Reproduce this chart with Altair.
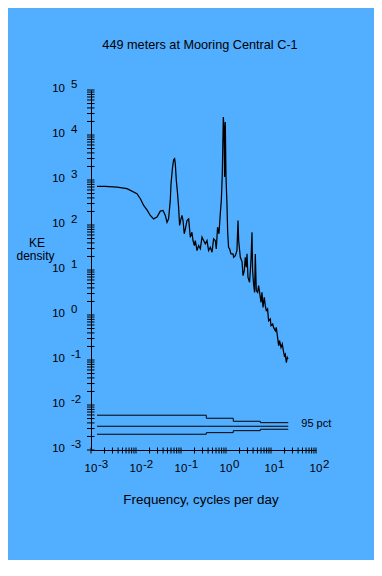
import altair as alt
import pandas as pd

# ---- data ----
title_text = "449 meters at Mooring Central C-1"
x_title = "Frequency, cycles per day"
y_title_1 = "KE"
y_title_2 = "density"
conf_label = "95 pct"

freq = [1.36e-3, 2.08e-3, 3.79e-3, 6.31e-3, 1.05e-2, 1.25e-2, 1.48e-2, 1.75e-2, 2.08e-2, 2.46e-2,
        2.93e-2, 3.47e-2, 3.98e-2, 4.48e-2, 4.89e-2, 5.30e-2, 5.78e-2, 6.00e-2, 6.50e-2, 6.86e-2,
        7.21e-2, 7.46e-2, 7.87e-2, 8.39e-2, 8.85e-2, 9.31e-2, 0.100, 0.105, 0.111, 0.118,
        0.125, 0.136, 0.148, 0.155, 0.161, 0.175, 0.185, 0.198, 0.208, 0.227,
        0.246, 0.269, 0.293, 0.318, 0.347, 0.378, 0.410, 0.448, 0.489, 0.530,
        0.578, 0.608, 0.650, 0.698, 0.746, 0.787, 0.828, 0.871, 0.904, 0.931,
        0.964, 1.00, 1.05, 1.09, 1.14, 1.20, 1.29, 1.43, 1.48, 1.61,
        1.75, 1.85, 1.91, 2.08, 2.27, 2.39, 2.55, 2.68, 2.82, 2.93,
        3.08, 3.34, 3.59, 3.78, 3.90, 4.10, 4.32, 4.48, 4.71, 5.04,
        5.30, 5.58, 6.00, 6.31, 6.64, 7.10, 7.46, 7.87, 8.39, 8.85,
        9.64, 10.0, 10.9, 11.4, 12.5, 13.1, 14.0, 14.8, 15.5, 16.7,
        17.8, 19.1, 19.8, 20.8, 21.9, 23.0, 23.9]
ke = [720, 720, 695, 640, 495, 383, 272, 216, 163, 137,
      151, 203, 210, 163, 115, 137, 352, 827, 1940, 2830,
      2980, 2310, 980, 495, 249, 97.5, 137, 163, 126, 63.7,
      82.2, 126, 137, 82.2, 53.5, 69.1, 45.2, 34.9, 45.2, 27.0,
      34.9, 29.5, 53.5, 45.2, 38.1, 45.2, 27.0, 32.0, 24.8, 49.3,
      45.2, 29.5, 89.3, 63.7, 177, 352, 1380, 25200, 15100, 1160,
      19500, 1160, 296, 69.1, 32.0, 29.5, 22.8, 22.8, 19.2, 20.9,
      27.0, 126, 45.2, 19.2, 15.4, 7.50, 9.70, 19.2, 11.5, 22.8,
      6.87, 5.32, 16.2, 69.1, 9.70, 4.90, 3.18, 22.8, 3.48, 3.18,
      4.50, 3.18, 1.91, 3.18, 1.48, 2.47, 1.61, 1.25, 1.36, 0.746,
      0.815, 0.578, 0.631, 0.530, 0.447, 0.530, 0.317, 0.207, 0.268, 0.190,
      0.226, 0.147, 0.124, 0.135, 0.0879, 0.114, 0.105]

conf_freq = [1.36e-3, 0.365, 1.45, 5.78, 24.2]
conf_upper = [5.93e-3, 5.08e-3, 4.35e-3, 4.05e-3, 4.05e-3]
conf_mid = [3.37e-3, 3.37e-3, 3.37e-3, 3.37e-3, 3.37e-3]
conf_lower = [2.24e-3, 2.43e-3, 2.69e-3, 2.89e-3, 2.89e-3]

x_decades = [-3, -2, -1, 0, 1, 2]
y_decades = [-3, -2, -1, 0, 1, 2, 3, 4, 5]
x_exp_labels = ["-3", "-2", "-1", "0", "1", "2"]
y_exp_labels = ["-3", "-2", "-1", "0", "1", "2", "3", "4", "5"]
minor_mult = [1, 2, 3, 4, 5, 6, 7, 8, 9]

# ---- tables ----
spec_df = pd.DataFrame({"f": freq, "e": ke})
conf_df = pd.concat([
    pd.DataFrame({"f": conf_freq, "e": conf_upper, "s": "upper"}),
    pd.DataFrame({"f": conf_freq, "e": conf_mid, "s": "mid"}),
    pd.DataFrame({"f": conf_freq, "e": conf_lower, "s": "lower"}),
])
label_df = pd.DataFrame({"f": [conf_freq[-1]], "e": [conf_mid[-1]], "t": [conf_label]})

x_ticks = [m * 10.0 ** d for d in x_decades[:-1] for m in minor_mult] + [10.0 ** x_decades[-1]]
y_ticks = [m * 10.0 ** d for d in y_decades[:-1] for m in minor_mult] + [10.0 ** y_decades[-1]]
xt_df = pd.DataFrame({"v": x_ticks})
yt_df = pd.DataFrame({"v": y_ticks})
xl_df = pd.DataFrame({"v": [10.0 ** d for d in x_decades], "b": "10", "p": x_exp_labels})
yl_df = pd.DataFrame({"v": [10.0 ** d for d in y_decades], "b": "10", "p": y_exp_labels})

FONT = "Liberation Sans"
W, H = 225, 360

xs = alt.Scale(type="log", domain=[1e-3, 1e2], nice=False)
ys = alt.Scale(type="log", domain=[1e-3, 1e5], nice=False)
ax = alt.Axis(domain=True, domainColor="black", domainWidth=1, labels=False, ticks=False,
              grid=False, title=None)

spectrum = alt.Chart(spec_df).mark_line(color="black", strokeWidth=1.25, clip=False).encode(
    x=alt.X("f:Q", scale=xs, axis=ax),
    y=alt.Y("e:Q", scale=ys, axis=ax),
    order="f:Q",
)

conf = alt.Chart(conf_df).mark_line(color="black", strokeWidth=1, interpolate="step-after").encode(
    x=alt.X("f:Q", scale=xs),
    y=alt.Y("e:Q", scale=ys),
    detail="s:N",
)

conf_text = alt.Chart(label_df).mark_text(
    align="left", baseline="middle", dx=13, dy=-2, font=FONT, fontSize=11, color="black"
).encode(x=alt.X("f:Q", scale=xs), y=alt.Y("e:Q", scale=ys), text="t:N")

xtick = alt.Chart(xt_df).mark_rule(color="black", strokeWidth=1).encode(
    x=alt.X("v:Q", scale=xs), y=alt.value(H - 2.5), y2=alt.value(H + 3.5)
)
ytick = alt.Chart(yt_df).mark_rule(color="black", strokeWidth=1).encode(
    y=alt.Y("v:Q", scale=ys), x=alt.value(-4), x2=alt.value(3.5)
)

xbase = alt.Chart(xl_df).mark_text(
    align="center", baseline="middle", font=FONT, fontSize=11.5, color="black"
).encode(x=alt.X("v:Q", scale=xs), y=alt.value(H + 19), text="b:N")
xexp = alt.Chart(xl_df).mark_text(
    align="left", baseline="middle", dx=7, font=FONT, fontSize=11.5, color="black"
).encode(x=alt.X("v:Q", scale=xs), y=alt.value(H + 15), text="p:N")

ybase = alt.Chart(yl_df).mark_text(
    align="right", baseline="middle", dy=-1, font=FONT, fontSize=11.5, color="black"
).encode(y=alt.Y("v:Q", scale=ys), x=alt.value(-26), text="b:N")
yexp = alt.Chart(yl_df).mark_text(
    align="left", baseline="middle", dy=-5, font=FONT, fontSize=11.5, color="black"
).encode(y=alt.Y("v:Q", scale=ys), x=alt.value(-20), text="p:N")

def label(txt, x, y, size):
    return alt.Chart(pd.DataFrame({"t": [txt]})).mark_text(
        align="center", baseline="middle", font=FONT, fontSize=size, color="black"
    ).encode(x=alt.value(x), y=alt.value(y), text="t:N")

title = label(title_text, 109, -45, 12.7)
xlab = label(x_title, 110, 410, 13.4)
ylab1 = label(y_title_1, -54, 153, 12)
ylab2 = label(y_title_2, -55.5, 166, 12)

chart = alt.layer(
    spectrum, conf, conf_text, xtick, ytick, xbase, xexp, ybase, yexp, title, xlab, ylab1, ylab2
).properties(
    width=W, height=H,
    padding={"left": 83, "top": 82, "right": 58, "bottom": 110},
    autosize=alt.AutoSizeParams(type="none"),
    background="#52AEFF",
).configure_view(stroke=None)

chart.save("out.html", embed_options={"renderer": "svg", "actions": False})
